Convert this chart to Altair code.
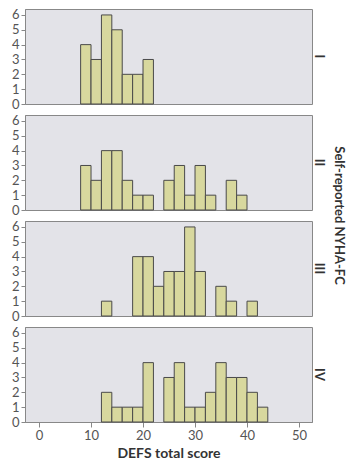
import altair as alt
import pandas as pd

# NYHA functional class groups
classes = ["I", "II", "III", "IV"]
# left edges of the 2-point DEFS score bins
bin_starts = [8, 10, 12, 14, 16, 18, 20, 22, 24, 26, 28, 30, 32, 34, 36, 38, 40, 42]
# patient counts per bin for each class
counts_I = [4, 3, 6, 5, 2, 2, 3, 0, 0, 0, 0, 0, 0, 0, 0, 0, 0, 0]
counts_II = [3, 2, 4, 4, 2, 1, 1, 0, 2, 3, 1, 3, 1, 0, 2, 1, 0, 0]
counts_III = [0, 0, 1, 0, 0, 4, 4, 2, 3, 3, 6, 3, 0, 2, 1, 0, 1, 0]
counts_IV = [0, 0, 2, 1, 1, 1, 4, 0, 3, 4, 1, 1, 2, 4, 3, 3, 2, 1]
bin_width = 2
row_title = "Self-reported NYHA-FC"

rows = []
for cls, cnts in zip(classes, [counts_I, counts_II, counts_III, counts_IV]):
    for b, c in zip(bin_starts, cnts):
        if c > 0:
            rows.append({"nyha": cls, "start": b, "end": b + bin_width, "count": c})
df = pd.DataFrame(rows)

FONT = "Lato"
W, H = 287, 95
x_scale = alt.Scale(domain=[-2.7, 52.5], nice=False, zero=False)
y_scale = alt.Scale(domain=[0, 6.4], nice=False)
y_axis = alt.Axis(values=[0, 1, 2, 3, 4, 5, 6], title=None, grid=False,
                  tickSize=4, labelPadding=2)


def panel(cls, bottom=False, with_title=False):
    x_axis = (alt.Axis(values=[0, 10, 20, 30, 40, 50], title="DEFS total score",
                       grid=False, tickSize=5, labelPadding=2, titlePadding=4)
              if bottom else None)
    bars = alt.Chart(df).transform_filter(alt.datum.nyha == cls).mark_bar(
        fill="#d8d89e", stroke="#4a4a4a", strokeWidth=1
    ).encode(
        x=alt.X("start:Q", scale=x_scale, axis=x_axis),
        x2="end:Q",
        y=alt.Y("count:Q", scale=y_scale, axis=y_axis),
        y2=alt.datum(0),
    )
    # class label to the right of the panel
    label = alt.Chart(pd.DataFrame({"t": [cls]})).mark_text(
        angle=90, align="center", baseline="middle", font=FONT,
        fontSize=13, fontWeight="bold", color="#333333"
    ).encode(text="t:N", x=alt.value(W + 7), y=alt.value(H / 2))
    layers = [bars, label]
    if with_title:
        # shared row title, centred on the stack of panels
        title = alt.Chart(pd.DataFrame({"t": [row_title]})).mark_text(
            angle=90, align="center", baseline="middle", font=FONT,
            fontSize=13, fontWeight="bold", color="#333333"
        ).encode(text="t:N", x=alt.value(W + 27), y=alt.value(H + 5.5))
        layers.append(title)
    return alt.layer(*layers).properties(width=W, height=H)


chart = alt.vconcat(
    panel("I"),
    panel("II", with_title=True),
    panel("III"),
    panel("IV", bottom=True),
    spacing=11,
    bounds="flush",
).configure_view(
    fill="#e3e3e8", stroke="#888888", strokeWidth=1
).configure_axis(
    labelFont=FONT, labelFontSize=13, labelColor="#555555",
    titleFont=FONT, titleFontSize=14, titleFontWeight="bold", titleColor="#333333",
    domainColor="#888888", tickColor="#888888",
).properties(
    padding={"left": 10, "top": 8, "right": 0, "bottom": 0},
    background="white",
)

chart.save("out.html", embed_options={"renderer": "svg", "actions": False})
